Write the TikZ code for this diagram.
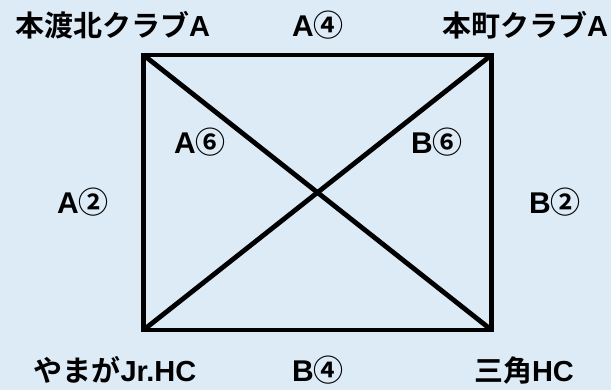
\documentclass[tikz,border=0pt]{standalone}
\usepackage{fontspec}
\setmainfont{Liberation Sans}
\newfontfamily\jp{Noto Sans CJK JP}[BoldFont=* Bold]
\definecolor{pagebg}{RGB}{221,235,247}
\usetikzlibrary{positioning}
\tikzset{
  team/.style={font=\fontsize{29}{31}\selectfont\bfseries, inner sep=0pt},
  game/.style={font=\fontsize{30}{32}\selectfont\bfseries, inner sep=0pt},
  edge/.style={line width=4.8pt, black}
}
\begin{document}
\begin{tikzpicture}[x=1pt,y=-1pt]
  \fill[pagebg] (0,0) rectangle (611,390);
  \useasboundingbox (0,0) rectangle (611,390);

  %% --- CORNERS ---
  \coordinate (tl) at (143.5,55);
  \coordinate (tr) at (491.5,55);
  \coordinate (br) at (491.5,330);
  \coordinate (bl) at (143.5,330);

  \draw[edge] (tl) -- (tr) -- (br) -- (bl) -- cycle;
  \draw[edge] (tl) -- (br);
  \draw[edge] (tr) -- (bl);

  %% --- TEAMS ---
  \node[team] (hondo)  at (112.5,25)  {{\jp 本渡北クラブ}A};
  \node[team] (honmachi) at (525,25) {{\jp 本町クラブ}A};
  \node[team] (yamaga) at (115,370) {{\jp やまが}Jr.HC};
  \node[team] (misumi) at (524,370) {{\jp 三角}HC};

  %% --- GAMES ---
  \node[game] (a4) at (318,25)  {A{\jp ④}};
  \node[game] (b4) at (318,370) {B{\jp ④}};
  \node[game] (a2) at (83,202)  {A{\jp ②}};
  \node[game] (b2) at (555,202) {B{\jp ②}};
  \node[game] (a6) at (200,142) {A{\jp ⑥}};
  \node[game] (b6) at (437,142) {B{\jp ⑥}};
\end{tikzpicture}
\end{document}
